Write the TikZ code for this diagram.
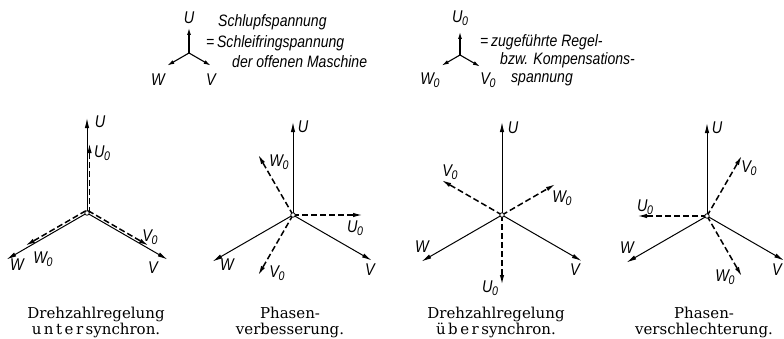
\documentclass[tikz,border=0pt]{standalone}
\usepackage{fontspec}
\setmainfont{DejaVu Serif}
\newfontfamily\lblfont[FakeStretch=0.85]{Liberation Sans}
\usetikzlibrary{arrows.meta}

% index 0 for the control voltages
\newcommand\nsub[1]{#1\kern-0.5pt\raisebox{-3pt}{\fontsize{12.5}{12.5}\selectfont 0}}

\begin{document}
\begin{tikzpicture}[x=1pt, y=1pt,
  vec/.style={-{Latex[length=10pt,width=4.4pt]}, line width=1pt},
  ctl/.style={-{Latex[length=10pt,width=4.4pt]}, line width=1.5pt, dash pattern=on 6pt off 3pt},
  legvec/.style={-{Latex[length=7pt,width=4pt]}, line width=1.1pt},
  lbl/.style={font=\lblfont\itshape\fontsize{17}{17}\selectfont, inner sep=0pt},
  txt/.style={font=\lblfont\itshape\fontsize{16.5}{18}\selectfont, inner sep=0pt, anchor=base west},
  captxt/.style={font=\fontsize{15}{16}\selectfont, align=center, inner sep=0pt, anchor=north},
  hub/.style={circle, draw, fill=white, inner sep=0pt, minimum size=4.5pt, line width=0.8pt}
]
\useasboundingbox (0,0) rectangle (784,338);

% legend: slip voltage
\coordinate (s0) at (189,285);
\coordinate (su) at ([shift={(90:25)}]s0);
\coordinate (sv) at ([shift={(-30:25)}]s0);
\coordinate (sw) at ([shift={(210:25)}]s0);
\draw[legvec] (s0) -- (su);
\draw[legvec] (s0) -- (sv);
\draw[legvec] (s0) -- (sw);
\node[lbl] (su-l) at (189,320) {U};
\node[lbl] (sv-l) at (211,258) {V};
\node[lbl] (sw-l) at (158,258) {W};
\node[txt] (s-t1) at (218,311) {Schlupfspannung};
\node[txt] (s-t2) at (206,290) {=\,Schleifringspannung};
\node[txt] (s-t3) at (232,270) {der offenen Maschine};

% legend: control voltage
\coordinate (k0) at (460,283);
\coordinate (ku) at ([shift={(90:23)}]k0);
\coordinate (kv) at ([shift={(-30:23)}]k0);
\coordinate (kw) at ([shift={(210:21)}]k0);
\draw[legvec] (k0) -- (ku);
\draw[legvec] (k0) -- (kv);
\draw[legvec] (k0) -- (kw);
\node[lbl] (ku-l) at (460,320) {\nsub{U}};
\node[lbl] (kv-l) at (488,258) {\nsub{V}};
\node[lbl] (kw-l) at (430,258) {\nsub{W}};
\node[txt] (k-t1) at (480,291) {=\,zugeführte Regel-};
\node[txt] (k-t2) at (500,273) {bzw. Kompensations-};
\node[txt] (k-t3) at (511,255) {spannung};

% 1: Drehzahlregelung untersynchron
\coordinate (c1) at (87,125);
\coordinate (u1) at ([shift={(90:95)}]c1);
\coordinate (v1) at ([shift={(-30:93)}]c1);
\coordinate (w1) at ([shift={(210:93)}]c1);
\coordinate (uo1) at ([shift={(90:70)}]c1);
\coordinate (vo1) at ([shift={(-30:70)}]c1);
\coordinate (wo1) at ([shift={(210:70)}]c1);
\draw[vec] (c1) -- (u1);
\draw[vec] (c1) -- (v1);
\draw[vec] (c1) -- (w1);
\draw[ctl, transform canvas={xshift=2.5pt}] (c1) -- (uo1);
\draw[ctl, transform canvas={shift={(1.25pt,2.2pt)}}] (c1) -- (vo1);
\draw[ctl, transform canvas={shift={(-1.25pt,2.2pt)}}] (c1) -- (wo1);
\node[hub] (h1) at (c1) {};
\node[lbl] (u1-l) at (100,216) {U};
\node[lbl] (uo1-l) at (102,185) {\nsub{U}};
\node[lbl] (vo1-l) at (150,101) {\nsub{V}};
\node[lbl] (v1-l) at (153,70) {V};
\node[lbl] (w1-l) at (17,73) {W};
\node[lbl] (wo1-l) at (43,79) {\nsub{W}};
\node[captxt] (cap1) at (96,31.5) {Drehzahlregelung\\u\kern2.5pt n\kern2.5pt t\kern2.5pt e\kern2.5pt r\kern2.5pt synchron.};

% 2: Phasenverbesserung
\coordinate (c2) at (293,123);
\coordinate (u2) at ([shift={(90:93)}]c2);
\coordinate (v2) at ([shift={(-30:91)}]c2);
\coordinate (w2) at ([shift={(210:93)}]c2);
\coordinate (uo2) at ([shift={(0:70)}]c2);
\coordinate (vo2) at ([shift={(240:70)}]c2);
\coordinate (wo2) at ([shift={(120:70)}]c2);
\draw[vec] (c2) -- (u2);
\draw[vec] (c2) -- (v2);
\draw[vec] (c2) -- (w2);
\draw[ctl] (c2) -- (uo2);
\draw[ctl] (c2) -- (vo2);
\draw[ctl] (c2) -- (wo2);
\node[hub] (h2) at (c2) {};
\node[lbl] (u2-l) at (303,211) {U};
\node[lbl] (wo2-l) at (279,176) {\nsub{W}};
\node[lbl] (uo2-l) at (355,110) {\nsub{U}};
\node[lbl] (w2-l) at (227,73) {W};
\node[lbl] (vo2-l) at (277,65) {\nsub{V}};
\node[lbl] (v2-l) at (370,68) {V};
\node[captxt] (cap2) at (290,31.5) {Phasen-\\verbesserung.};

% 3: Drehzahlregelung uebersynchron
\coordinate (c3) at (502,123);
\coordinate (u3) at ([shift={(90:93)}]c3);
\coordinate (v3) at ([shift={(-30:92)}]c3);
\coordinate (w3) at ([shift={(210:93)}]c3);
\coordinate (uo3) at ([shift={(270:70)}]c3);
\coordinate (vo3) at ([shift={(150:70)}]c3);
\coordinate (wo3) at ([shift={(30:62)}]c3);
\draw[vec] (c3) -- (u3);
\draw[vec] (c3) -- (v3);
\draw[vec] (c3) -- (w3);
\draw[ctl] (c3) -- (uo3);
\draw[ctl] (c3) -- (vo3);
\draw[ctl] (c3) -- (wo3);
\node[hub] (h3) at (c3) {};
\node[lbl] (u3-l) at (513,210) {U};
\node[lbl] (vo3-l) at (450,166) {\nsub{V}};
\node[lbl] (wo3-l) at (562,140) {\nsub{W}};
\node[lbl] (w3-l) at (422,91) {W};
\node[lbl] (v3-l) at (575,68) {V};
\node[lbl] (uo3-l) at (490,50) {\nsub{U}};
\node[captxt] (cap3) at (496,31.5) {Drehzahlregelung\\ü\kern2.5pt b\kern2.5pt e\kern2.5pt r\kern2.5pt synchron.};

% 4: Phasenverschlechterung
\coordinate (c4) at (707,122);
\coordinate (u4) at ([shift={(90:93)}]c4);
\coordinate (v4) at ([shift={(-30:89)}]c4);
\coordinate (w4) at ([shift={(210:93)}]c4);
\coordinate (uo4) at ([shift={(180:70)}]c4);
\coordinate (vo4) at ([shift={(60:70)}]c4);
\coordinate (wo4) at ([shift={(300:70)}]c4);
\draw[vec] (c4) -- (u4);
\draw[vec] (c4) -- (v4);
\draw[vec] (c4) -- (w4);
\draw[ctl] (c4) -- (uo4);
\draw[ctl] (c4) -- (vo4);
\draw[ctl] (c4) -- (wo4);
\node[hub] (h4) at (c4) {};
\node[lbl] (u4-l) at (717,210) {U};
\node[lbl] (vo4-l) at (749,170) {\nsub{V}};
\node[lbl] (uo4-l) at (645,131) {\nsub{U}};
\node[lbl] (w4-l) at (627,90) {W};
\node[lbl] (wo4-l) at (725,61) {\nsub{W}};
\node[lbl] (v4-l) at (777,68) {V};
\node[captxt] (cap4) at (704,31.5) {Phasen-\\verschlechterung.};
\end{tikzpicture}
\end{document}
